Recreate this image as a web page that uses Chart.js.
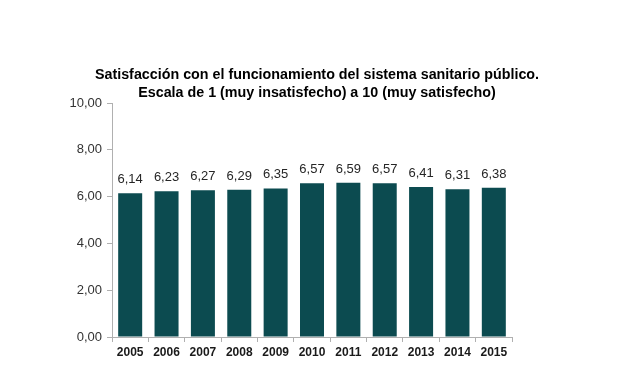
<!DOCTYPE html>
<html>
<head>
<meta charset="utf-8">
<script src="https://cdn.jsdelivr.net/npm/chart.js@4"></script>
<style>
  html, body { margin: 0; padding: 0; background: #fff; }
  #wrap { width: 620px; height: 368px; }
</style>
</head>
<body>
<div id="wrap"><canvas id="chart" width="620" height="368"></canvas></div>
<script>
const years = ["2005", "2006", "2007", "2008", "2009", "2010", "2011", "2012", "2013", "2014", "2015"];
const scores = [6.14, 6.23, 6.27, 6.29, 6.35, 6.57, 6.59, 6.57, 6.41, 6.31, 6.38];
const titleLines = [
  "Satisfacción con el funcionamiento del sistema sanitario público.",
  "Escala de 1 (muy insatisfecho) a 10 (muy satisfecho)"
];

const FONT = "'Liberation Sans', Arial, sans-serif";
const comma = v => v.toFixed(2).replace(".", ",");

// value labels above each bar
const valueLabels = {
  id: "valueLabels",
  afterDatasetsDraw(chart) {
    const { ctx } = chart;
    const meta = chart.getDatasetMeta(0);
    ctx.save();
    ctx.font = "13px " + FONT;
    ctx.fillStyle = "#262626";
    ctx.textAlign = "center";
    ctx.textBaseline = "bottom";
    meta.data.forEach((bar, i) => {
      ctx.fillText(comma(scores[i]), bar.x, bar.y - 7);
    });
    ctx.restore();
  }
};

// two-line title, centred a bit right of the plot like the original
const titleText = {
  id: "titleText",
  afterDraw(chart) {
    const { ctx } = chart;
    ctx.save();
    ctx.font = "bold 14.3px " + FONT;
    ctx.fillStyle = "#000";
    ctx.textAlign = "center";
    ctx.textBaseline = "middle";
    titleLines.forEach((line, i) => ctx.fillText(line, 317, 75 + i * 18));
    ctx.restore();
  }
};

new Chart(document.getElementById("chart"), {
  type: "bar",
  data: {
    labels: years,
    datasets: [{
      data: scores,
      backgroundColor: "#0c4b50",
      barPercentage: 0.66,
      categoryPercentage: 1
    }]
  },
  options: {
    responsive: false,
    animation: false,
    layout: { padding: { left: 0, right: 108, top: 103, bottom: 0 } },
    plugins: {
      legend: { display: false },
      tooltip: { enabled: false },
      title: { display: false }
    },
    scales: {
      x: {
        afterFit: s => { s.height = 31; },
        grid: { display: true, drawOnChartArea: false, tickLength: 5, color: "#b0b0b0" },
        border: { color: "#b0b0b0" },
        ticks: {
          color: "#1a1a1a",
          padding: 3,
          font: { family: FONT, size: 12, weight: "bold" }
        }
      },
      y: {
        min: 0,
        max: 10,
        afterFit: s => { s.width = 112; },
        grid: { display: true, drawOnChartArea: false, tickLength: 5, color: "#b0b0b0" },
        border: { color: "#b0b0b0" },
        ticks: {
          stepSize: 2,
          color: "#333",
          padding: 5,
          font: { family: FONT, size: 13 },
          callback: v => comma(v)
        }
      }
    }
  },
  plugins: [valueLabels, titleText]
});
</script>
</body>
</html>
